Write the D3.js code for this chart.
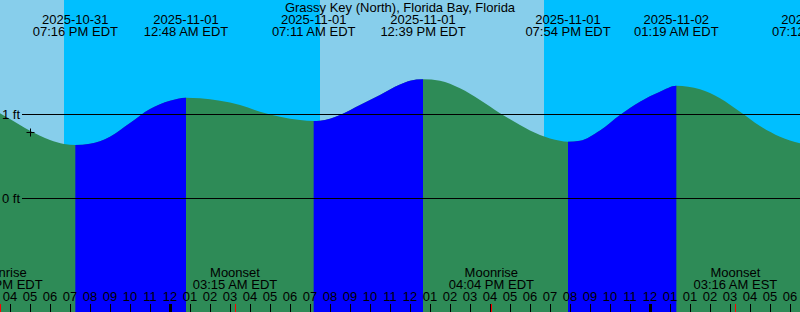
<!DOCTYPE html>
<html>
<head>
<meta charset="utf-8">
<script src="https://cdn.jsdelivr.net/npm/d3@7"></script>
<style>
  body { margin: 0; background: #fff; }
  svg { display: block; }
  svg text { font-family: "Liberation Sans", Arial, sans-serif; font-size: 13px; fill: #000; }
</style>
</head>
<body>
<div id="chart"></div>
<script>
var title = 'Grassy Key (North), Florida Bay, Florida';

// tide curve (UTC times, feet)
var sampleTimes = [
  '2025-10-31T19:30Z', '2025-10-31T20:00Z', '2025-10-31T21:00Z', '2025-10-31T22:00Z',
  '2025-10-31T22:42Z', '2025-10-31T23:16Z', '2025-11-01T00:00Z', '2025-11-01T01:00Z',
  '2025-11-01T02:00Z', '2025-11-01T03:00Z', '2025-11-01T04:00Z', '2025-11-01T04:48Z',
  '2025-11-01T05:30Z', '2025-11-01T06:30Z', '2025-11-01T07:30Z', '2025-11-01T08:30Z',
  '2025-11-01T09:30Z', '2025-11-01T10:30Z', '2025-11-01T11:11Z', '2025-11-01T11:30Z',
  '2025-11-01T12:30Z', '2025-11-01T13:30Z', '2025-11-01T14:30Z', '2025-11-01T15:30Z',
  '2025-11-01T16:00Z', '2025-11-01T16:39Z', '2025-11-01T17:30Z', '2025-11-01T18:30Z',
  '2025-11-01T19:30Z', '2025-11-01T20:30Z', '2025-11-01T21:30Z', '2025-11-01T22:30Z',
  '2025-11-01T23:30Z', '2025-11-01T23:54Z', '2025-11-02T00:30Z', '2025-11-02T01:30Z',
  '2025-11-02T02:30Z', '2025-11-02T03:30Z', '2025-11-02T04:30Z', '2025-11-02T05:19Z',
  '2025-11-02T06:30Z', '2025-11-02T07:30Z', '2025-11-02T08:30Z', '2025-11-02T09:30Z',
  '2025-11-02T10:30Z', '2025-11-02T11:30Z'
];
var sampleHeights = [
  1.01, 0.94, 0.80, 0.69,
  0.643, 0.631, 0.646, 0.73,
  0.893, 1.06, 1.158, 1.194,
  1.187, 1.158, 1.107, 1.027,
  0.968, 0.929, 0.917, 0.92,
  0.988, 1.107, 1.226, 1.351,
  1.396, 1.413, 1.396, 1.306,
  1.167, 1.01, 0.869, 0.75,
  0.682, 0.67, 0.682, 0.804,
  0.988, 1.146, 1.265, 1.337,
  1.294, 1.187, 1.027, 0.857,
  0.73, 0.651
];

// high / low tides
var extremeTimes = ['2025-10-31T23:16Z', '2025-11-01T04:48Z', '2025-11-01T11:11Z', '2025-11-01T16:39Z',
  '2025-11-01T23:54Z', '2025-11-02T05:19Z', '2025-11-02T12:12Z'];
var extremeTypes = ['low', 'high', 'low', 'high', 'low', 'high', 'low'];
var extremeDates = ['2025-10-31', '2025-11-01', '2025-11-01', '2025-11-01', '2025-11-01', '2025-11-02', '2025-11-02'];
var extremeLabels = ['07:16 PM EDT', '12:48 AM EDT', '07:11 AM EDT', '12:39 PM EDT', '07:54 PM EDT', '01:19 AM EDT', '07:12 AM EST'];

var sunTimes = ['2025-10-31T22:42Z', '2025-11-01T11:30Z', '2025-11-01T22:42Z'];
var sunTypes = ['set', 'rise', 'set'];

var moonTimes = ['2025-10-31T19:30Z', '2025-11-01T07:15Z', '2025-11-01T20:04Z', '2025-11-02T08:16Z'];
var moonNames = ['Moonrise', 'Moonset', 'Moonrise', 'Moonset'];
var moonLabels = ['03:30 PM EDT', '03:15 AM EDT', '04:04 PM EDT', '03:16 AM EST'];

var hourLabels = ['04', '05', '06', '07', '08', '09', '10', '11', '12',
  '01', '02', '03', '04', '05', '06', '07', '08', '09', '10', '11', '12',
  '01', '02', '03', '04', '05', '06', '07', '08', '09', '10', '11', '12',
  '01', '01', '02', '03', '04', '05', '06'];
var midnightTimes = ['2025-11-01T04:00Z', '2025-11-02T04:00Z'];

var depthTicks = [0, 1];
var depthLabels = ['0 ft', '1 ft'];

var markTime = '2025-10-31T21:00Z';
var markHeight = 0.78;

var width = 800, height = 312;
var parse = d3.isoParse;

var x = d3.scaleUtc()
  .domain([parse('2025-10-31T19:30Z'), parse('2025-11-02T11:30Z')])
  .range([0, width]);
var y = d3.scaleLinear().domain([0, 1]).range([198, 114]);

var svg = d3.select('#chart').append('svg')
  .attr('width', width)
  .attr('height', height);

// sky: day / night bands
var edges = [x.domain()[0]].concat(sunTimes.map(parse), [x.domain()[1]]);
var isDay = sunTypes[0] === 'set';
var bands = [];
for (var i = 0; i < edges.length - 1; i++) {
  bands.push({ a: edges[i], b: edges[i + 1], day: isDay });
  isDay = !isDay;
}
svg.selectAll('.sky')
  .data(bands)
  .enter().append('rect')
  .attr('class', 'sky')
  .attr('x', function (d) { return x(d.a); })
  .attr('width', function (d) { return x(d.b) - x(d.a); })
  .attr('y', 0)
  .attr('height', height)
  .attr('fill', function (d) { return d.day ? '#87ceeb' : '#00bfff'; });

// water
var tide = sampleTimes.map(function (t, i) { return { t: parse(t), h: sampleHeights[i] }; });
var area = d3.area()
  .x(function (d) { return x(d.t); })
  .y0(height)
  .y1(function (d) { return y(d.h); })
  .curve(d3.curveMonotoneX);

svg.append('path')
  .datum(tide)
  .attr('d', area)
  .attr('fill', '#2e8b57');

// rising tide drawn in blue
var rising = [];
for (var j = 0; j < extremeTimes.length - 1; j++) {
  if (extremeTypes[j] === 'low') rising.push({ a: parse(extremeTimes[j]), b: parse(extremeTimes[j + 1]) });
}
svg.append('clipPath').attr('id', 'rise')
  .selectAll('rect')
  .data(rising)
  .enter().append('rect')
  .attr('x', function (d) { return x(d.a); })
  .attr('width', function (d) { return x(d.b) - x(d.a); })
  .attr('y', 0)
  .attr('height', height);

svg.append('path')
  .datum(tide)
  .attr('d', area)
  .attr('fill', '#0000ff')
  .attr('clip-path', 'url(#rise)');

// depth lines
svg.selectAll('.depth')
  .data(depthTicks)
  .enter().append('line')
  .attr('x1', 22).attr('x2', width)
  .attr('y1', function (d) { return Math.round(y(d)) + 0.5; })
  .attr('y2', function (d) { return Math.round(y(d)) + 0.5; })
  .attr('stroke', '#000');

svg.selectAll('.depthLabel')
  .data(depthTicks)
  .enter().append('text')
  .attr('x', 20)
  .attr('y', function (d) { return y(d) + 5; })
  .attr('text-anchor', 'end')
  .text(function (d, i) { return depthLabels[i]; });

// mark
var mx = Math.round(x(parse(markTime))) + 0.5, my = Math.round(y(markHeight)) + 0.5;
svg.append('path')
  .attr('d', 'M' + (mx - 4) + ',' + my + 'H' + (mx + 4) + 'M' + mx + ',' + (my - 4) + 'V' + (my + 4))
  .attr('stroke', '#000')
  .attr('fill', 'none');

// title and tide times
svg.append('text')
  .attr('x', width / 2).attr('y', 12)
  .attr('text-anchor', 'middle')
  .text(title);

var ext = svg.selectAll('.ext')
  .data(extremeTimes)
  .enter().append('g')
  .attr('transform', function (d) { return 'translate(' + x(parse(d)) + ',0)'; });
ext.append('text').attr('y', 24).attr('text-anchor', 'middle')
  .text(function (d, i) { return extremeDates[i]; });
ext.append('text').attr('y', 36).attr('text-anchor', 'middle')
  .text(function (d, i) { return extremeLabels[i]; });

// moon events
var moon = svg.selectAll('.moon')
  .data(moonTimes)
  .enter().append('g')
  .attr('transform', function (d) { return 'translate(' + x(parse(d)) + ',0)'; });
moon.append('text').attr('y', 277).attr('text-anchor', 'middle')
  .text(function (d, i) { return moonNames[i]; });
moon.append('text').attr('y', 289).attr('text-anchor', 'middle')
  .text(function (d, i) { return moonLabels[i]; });

// hour axis
var hours = x.ticks(d3.utcHour.every(1));
var midnights = midnightTimes.map(function (t) { return +parse(t); });

svg.selectAll('.hourLabel')
  .data(hours)
  .enter().append('text')
  .attr('x', function (d) { return x(d); })
  .attr('y', 301)
  .attr('text-anchor', 'middle')
  .text(function (d, i) { return hourLabels[i]; });

svg.selectAll('.hourTick')
  .data(hours)
  .enter().append('line')
  .attr('x1', function (d) { return Math.round(x(d)) + 0.5; })
  .attr('x2', function (d) { return Math.round(x(d)) + 0.5; })
  .attr('y1', 304).attr('y2', height)
  .attr('stroke', '#000')
  .attr('stroke-width', function (d) { return midnights.indexOf(+d) >= 0 ? 3 : 1; });

svg.selectAll('.moonTick')
  .data(moonTimes)
  .enter().append('line')
  .attr('x1', function (d) { return Math.round(x(parse(d))) + 0.5; })
  .attr('x2', function (d) { return Math.round(x(parse(d))) + 0.5; })
  .attr('y1', 304).attr('y2', height)
  .attr('stroke', '#ff0000');
</script>
</body>
</html>
